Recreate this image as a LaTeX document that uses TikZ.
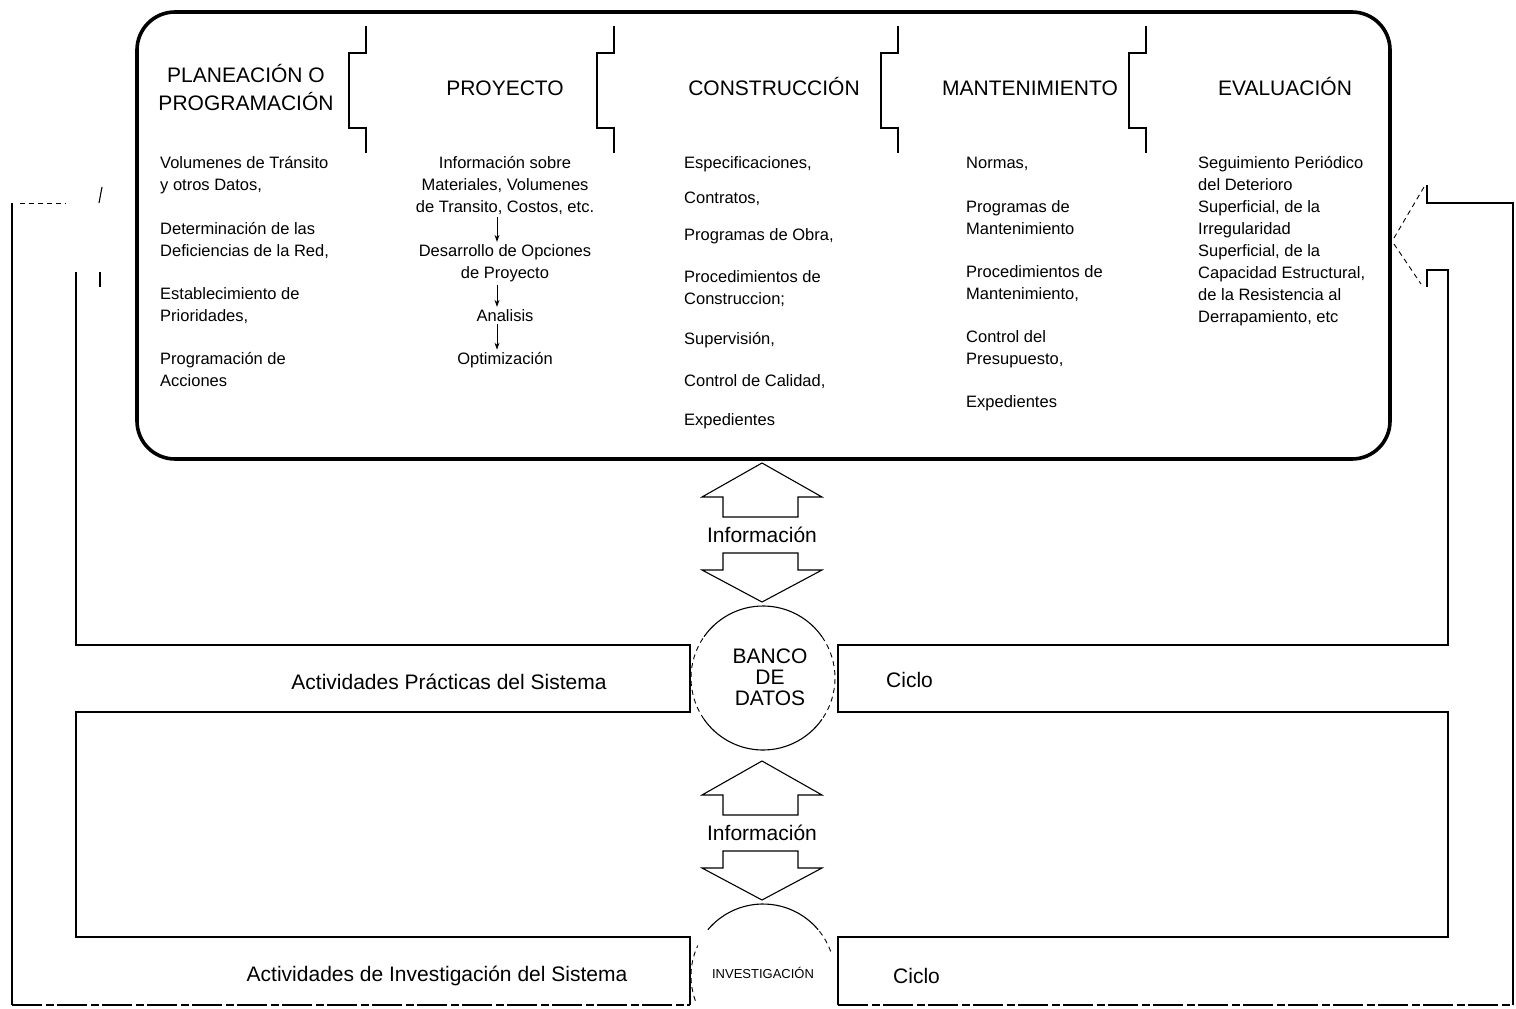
\documentclass[tikz,border=0pt]{standalone}
\usepackage{fontspec}
\setmainfont{Liberation Sans}
\usetikzlibrary{arrows.meta,positioning}

\tikzset{
  frame line/.style={line width=3.6pt, rounded corners=38pt},
  loop line/.style={line width=1.1pt},
  faint line/.style={line width=0.9pt, dash pattern=on 5pt off 4pt},
  stage/.style={font=\fontsize{21}{28}\selectfont, align=center, inner sep=0pt, anchor=base},
  item/.style={font=\fontsize{16.5}{22}\selectfont, align=left, inner sep=0pt, anchor=base west},
  citem/.style={font=\fontsize{16.5}{22}\selectfont, align=center, inner sep=0pt, anchor=base},
  band/.style={font=\fontsize{21}{21}\selectfont, align=center, inner sep=0pt, anchor=base},
  flow tip/.style={-{Stealth[length=7pt,width=5pt]}, line width=0.8pt},
}

\begin{document}
\begin{tikzpicture}[x=1pt,y=-1pt]
	\useasboundingbox (0,0) rectangle (1516,1009);
	
	% main frame with the five stages
	\draw[frame line] (137,12) rectangle (1390,459);
	\foreach \x in {366,614,898,1146}
		\draw[loop line] (\x,26) -- (\x,53) -- (\x-17,53) -- (\x-17,128) -- (\x,128) -- (\x,153);
	
	% (multi-line nodes sit on the baseline of their last line)
	\node[stage] (planea) at (246,110) {PLANEACIÓN O\\PROGRAMACIÓN};
	\node[stage] (proyecto) at (505,95) {PROYECTO};
	\node[stage] (constr) at (774,95) {CONSTRUCCIÓN};
	\node[stage] (mant) at (1030,95) {MANTENIMIENTO};
	\node[stage] (eval) at (1285,95) {EVALUACIÓN};
	
	% planeacion
	\node[item] (pl1) at (160,190) {Volumenes de Tránsito\\y otros Datos,};
	\node[item] (pl2) at (160,256) {Determinación de las\\Deficiencias de la Red,};
	\node[item] (pl3) at (160,321) {Establecimiento de\\Prioridades,};
	\node[item] (pl4) at (160,386) {Programación de\\Acciones};
	
	% proyecto
	\node[citem] (pr1) at (505,212) {Información sobre\\Materiales, Volumenes\\de Transito, Costos, etc.};
	\node[citem] (pr2) at (505,278) {Desarrollo de Opciones\\de Proyecto};
	\node[citem] (pr3) at (505,321) {Analisis};
	\node[citem] (pr4) at (505,364) {Optimización};
	\draw[flow tip] ([xshift=-8pt,yshift=-3pt]pr1.south) -- ([xshift=-8pt,yshift=2pt]pr2.north);
	\draw[flow tip] ([xshift=-8pt,yshift=-3pt]pr2.south) -- ([xshift=-8pt,yshift=2pt]pr3.north);
	\draw[flow tip] ([xshift=-8pt,yshift=-3pt]pr3.south) -- ([xshift=-8pt,yshift=2pt]pr4.north);
	
	% construccion
	\node[item] (co1) at (684,168) {Especificaciones,};
	\node[item] (co2) at (684,203) {Contratos,};
	\node[item] (co3) at (684,240) {Programas de Obra,};
	\node[item] (co4) at (684,304) {Procedimientos de\\Construccion;};
	\node[item] (co5) at (684,344) {Supervisión,};
	\node[item] (co6) at (684,386) {Control de Calidad,};
	\node[item] (co7) at (684,425) {Expedientes};
	
	% mantenimiento
	\node[item] (ma1) at (966,168) {Normas,};
	\node[item] (ma2) at (966,234) {Programas de\\Mantenimiento};
	\node[item] (ma3) at (966,299) {Procedimientos de\\Mantenimiento,};
	\node[item] (ma4) at (966,364) {Control del\\Presupuesto,};
	\node[item] (ma5) at (966,407) {Expedientes};
	
	% evaluacion
	\node[item] (ev1) at (1198,322) {Seguimiento Periódico\\del Deterioro\\Superficial, de la\\Irregularidad\\Superficial, de la\\Capacidad Estructural,\\de la Resistencia al\\Derrapamiento, etc};
	
	% information arrows and data bank
	\draw[loop line] (762,463) -- (822,497) -- (798,497) -- (798,517) -- (723,517) -- (723,497) -- (702,497) -- cycle;
	\node[band] (info1) at (762,542) {Información};
	\draw[loop line] (723,553) -- (798,553) -- (798,570) -- (822,570) -- (762,602) -- (702,570) -- (723,570) -- cycle;
	
	\coordinate (bank) at (763,678);
	\draw[loop line] (bank) ++(215:72) arc[start angle=215, end angle=325, radius=72];
	\draw[loop line] (bank) ++(35:72) arc[start angle=35, end angle=145, radius=72];
	\draw[faint line] (bank) ++(145:72) arc[start angle=145, end angle=215, radius=72];
	\draw[faint line] (bank) ++(-35:72) arc[start angle=-35, end angle=35, radius=72];
	\node[band] (banco) at (770,705) {BANCO\\DE\\DATOS};
	
	\draw[loop line] (762,761) -- (822,795) -- (798,795) -- (798,815) -- (723,815) -- (723,795) -- (702,795) -- cycle;
	\node[band] (info2) at (762,840) {Información};
	\draw[loop line] (723,851) -- (798,851) -- (798,868) -- (822,868) -- (762,900) -- (702,868) -- (723,868) -- cycle;
	
	\coordinate (research) at (763,976);
	\draw[loop line] (research) ++(220:72) arc[start angle=220, end angle=320, radius=72];
	\draw[faint line] (research) ++(160:72) arc[start angle=160, end angle=205, radius=72];
	\draw[faint line] (research) ++(-20:72) arc[start angle=-20, end angle=-40, radius=72];
	\node[font=\fontsize{13}{13}\selectfont, inner sep=0pt, anchor=base] (inves) at (763,978) {INVESTIGACIÓN};
	
	% practice cycle and research cycle
	\draw[loop line] (100,272) -- (100,287);
	\draw[loop line] (76,272) -- (76,645) -- (690,645) -- (690,712) -- (76,712) -- (76,937) -- (690,937) -- (690,1005);
	\draw[faint line] (20,203) -- (66,203);
	\draw[loop line] (102,187) -- (99,203);
	\draw[loop line] (12,203) -- (12,1005);
	\draw[line width=1.6pt, dash pattern=on 30pt off 4pt on 8pt off 3pt] (12,1005) -- (690,1005);
	
	\draw[faint line] (1394,238) -- (1424,187);
	\draw[faint line] (1394,244) -- (1421,284);
	\draw[loop line] (1427,287) -- (1427,270) -- (1448,270) -- (1448,645) -- (838,645) -- (838,712) -- (1448,712) -- (1448,937) -- (838,937) -- (838,1005);
	\draw[loop line] (1427,185) -- (1427,203) -- (1513,203) -- (1513,1005);
	\draw[line width=1.6pt, dash pattern=on 30pt off 4pt on 8pt off 3pt] (838,1005) -- (1513,1005);
	
	\node[band] (practicas) at (449,689) {Actividades Prácticas del Sistema};
	\node[band, anchor=base west] (ciclo1) at (886,687) {Ciclo};
	\node[band] (investig) at (437,981) {Actividades de Investigación del Sistema};
	\node[band, anchor=base west] (ciclo2) at (893,983) {Ciclo};
\end{tikzpicture}
\end{document}
